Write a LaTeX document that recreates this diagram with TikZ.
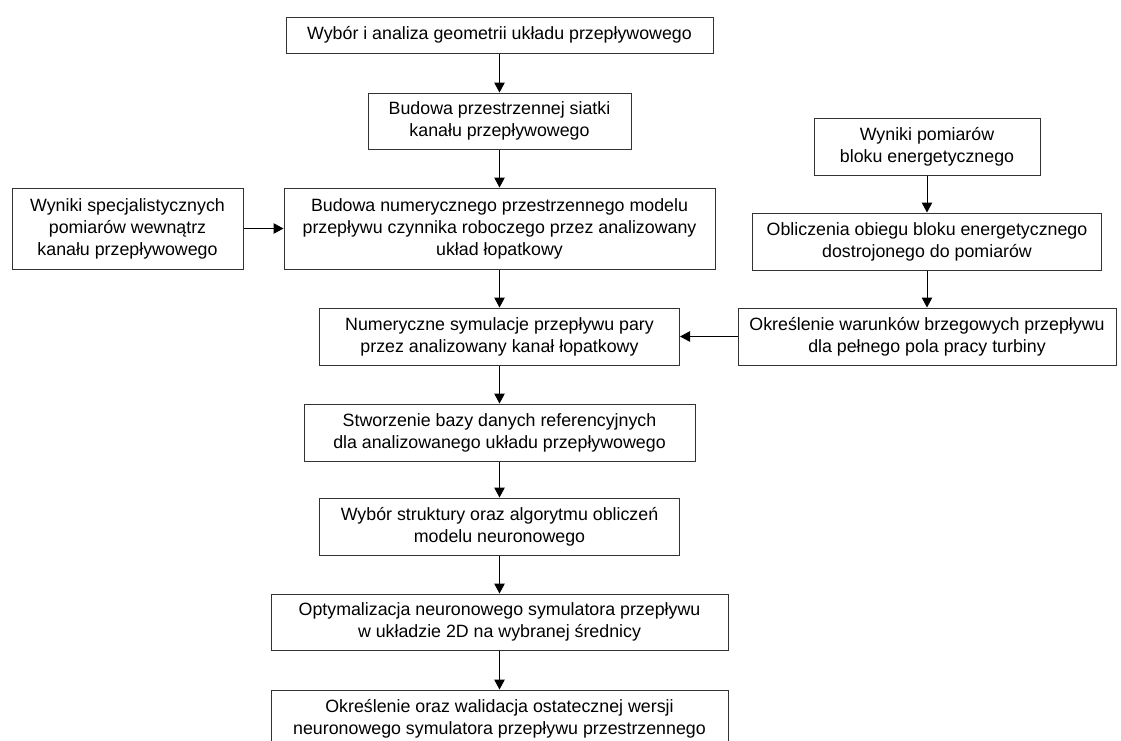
\documentclass[tikz,border=0pt]{standalone}
\usepackage{fontspec}
\setmainfont{Liberation Sans}
\usetikzlibrary{arrows.meta}
\begin{document}
\begin{tikzpicture}[x=1pt,y=-1pt,
  box/.style={draw=black!80, line width=1pt, inner sep=0pt, align=center,
    font=\fontsize{17.8}{22}\selectfont},
  conn/.style={line width=1pt, -{Triangle[length=10pt,width=10.5pt]}}]
\useasboundingbox (0,0) rectangle (1121,740);
\clip (0,0) rectangle (1121,740);
\fill[white] (0,0) rectangle (1121,740);
\node[box, minimum width=427pt, minimum height=36pt] (b1) at (499.5,35) {Wybór i analiza geometrii układu przepływowego};
\node[box, minimum width=263pt, minimum height=56pt] (b2) at (499.5,121) {Budowa przestrzennej siatki\\kanału przepływowego};
\node[box, minimum width=431pt, minimum height=81pt] (b3) at (499.5,228.5) {Budowa numerycznego przestrzennego modelu\\przepływu czynnika roboczego przez analizowany\\układ łopatkowy};
\node[box, minimum width=231pt, minimum height=81pt] (bL) at (127.5,228.5) {Wyniki specjalistycznych\\pomiarów wewnątrz\\kanału przepływowego};
\node[box, minimum width=226pt, minimum height=57pt] (r1) at (927,146.5) {Wyniki pomiarów\\bloku energetycznego};
\node[box, minimum width=349pt, minimum height=57pt] (r2) at (927,241.5) {Obliczenia obiegu bloku energetycznego\\dostrojonego do pomiarów};
\node[box, minimum width=378pt, minimum height=57pt] (r3) at (927,336.5) {Określenie warunków brzegowych przepływu\\dla pełnego pola pracy turbiny};
\node[box, minimum width=360pt, minimum height=57pt] (n) at (499.5,336.5) {Numeryczne symulacje przepływu pary\\przez analizowany kanał łopatkowy};
\node[box, minimum width=391pt, minimum height=57pt] (s) at (499.5,432.5) {Stworzenie bazy danych referencyjnych\\dla analizowanego układu przepływowego};
\node[box, minimum width=360pt, minimum height=57pt] (w) at (499.5,526.5) {Wybór struktury oraz algorytmu obliczeń\\modelu neuronowego};
\node[box, minimum width=457pt, minimum height=56pt] (o) at (499.5,622) {Optymalizacja neuronowego symulatora przepływu\\w układzie 2D na wybranej średnicy};
\node[box, minimum width=457pt, minimum height=57pt] (k) at (499.5,718.5) {Określenie oraz walidacja ostatecznej wersji\\neuronowego symulatora przepływu przestrzennego};
\draw[conn] (b1) -- (b2);
\draw[conn] (b2) -- (b3);
\draw[conn] (bL) -- (b3);
\draw[conn] (b3) -- (n);
\draw[conn] (r1) -- (r2);
\draw[conn] (r2) -- (r3);
\draw[conn] (r3) -- (n);
\draw[conn] (n) -- (s);
\draw[conn] (s) -- (w);
\draw[conn] (w) -- (o);
\draw[conn] (o) -- (k);
\end{tikzpicture}
\end{document}
